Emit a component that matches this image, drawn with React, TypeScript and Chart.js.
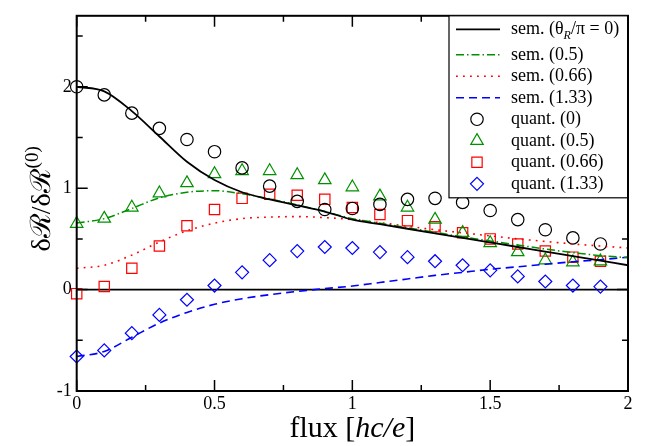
import React, { useEffect, useRef } from 'react';
import { Chart, registerables } from 'chart.js';

Chart.register(...registerables);

const FONT = '"Liberation Serif", "DejaVu Serif", "Times New Roman", serif';

// semiclassical curves (flux in hc/e)
const semX = [0, 0.1, 0.2, 0.3, 0.4, 0.5, 0.6, 0.7, 0.8, 0.9, 1.0, 1.1, 1.2, 1.3, 1.4, 1.5, 1.6, 1.7, 1.8, 1.9, 2.0];
const sem0 = [2.0, 1.955, 1.76, 1.51, 1.26, 1.08, 0.96, 0.89, 0.83, 0.77, 0.69, 0.645, 0.6, 0.555, 0.51, 0.465, 0.42, 0.375, 0.33, 0.285, 0.24];
const sem05 = [0.656, 0.7, 0.8, 0.905, 0.96, 0.975, 0.945, 0.895, 0.835, 0.77, 0.7, 0.655, 0.61, 0.565, 0.52, 0.48, 0.44, 0.4, 0.365, 0.335, 0.315];
const sem066 = [0.21, 0.24, 0.34, 0.47, 0.58, 0.655, 0.7, 0.715, 0.72, 0.71, 0.69, 0.66, 0.625, 0.59, 0.56, 0.53, 0.5, 0.475, 0.45, 0.43, 0.41];
const sem133 = [-0.66, -0.61, -0.47, -0.33, -0.225, -0.145, -0.09, -0.05, -0.018, 0.01, 0.035, 0.07, 0.105, 0.14, 0.17, 0.2, 0.225, 0.25, 0.275, 0.295, 0.32];

// quantum results
const quantX = [0, 0.1, 0.2, 0.3, 0.4, 0.5, 0.6, 0.7, 0.8, 0.9, 1.0, 1.1, 1.2, 1.3, 1.4, 1.5, 1.6, 1.7, 1.8, 1.9];
const quant0 = [2.0, 1.92, 1.74, 1.59, 1.48, 1.36, 1.2, 1.02, 0.87, 0.79, 0.8, 0.84, 0.89, 0.9, 0.86, 0.78, 0.69, 0.59, 0.51, 0.45];
const quant05 = [0.65, 0.7, 0.81, 0.95, 1.05, 1.14, 1.17, 1.17, 1.13, 1.08, 1.01, 0.92, 0.81, 0.69, 0.56, 0.46, 0.37, 0.29, 0.27, 0.28];
const quant066 = [-0.04, 0.03, 0.21, 0.43, 0.63, 0.79, 0.9, 0.94, 0.93, 0.89, 0.81, 0.74, 0.68, 0.62, 0.56, 0.5, 0.45, 0.38, 0.32, 0.28];
const quant133 = [-0.66, -0.6, -0.43, -0.25, -0.1, 0.04, 0.17, 0.29, 0.38, 0.42, 0.41, 0.37, 0.32, 0.28, 0.24, 0.19, 0.13, 0.08, 0.04, 0.03];

const semLabels = ['sem. (θR/π = 0)', 'sem. (0.5)', 'sem. (0.66)', 'sem. (1.33)'];
const quantLabels = ['quant. (0)', 'quant. (0.5)', 'quant. (0.66)', 'quant. (1.33)'];

const xTicks = [0, 0.5, 1, 1.5, 2];
const xMinor = [0.25, 0.75, 1.25, 1.75];
const yTicks = [-1, 0, 1, 2];
const yMinor = [-0.5, 0.5, 1.5, 2.5];

const xTitle = ['flux [', 'hc/e', ']'];
const yTitle = ['δℛ/δℛ', '(0)'];

const BLACK = '#000000';
const GREEN = '#009100';
const RED = '#ff0000';
const BLUE = '#0000ff';

const pts = (xs: number[], ys: number[]) => ys.map((y, i) => ({ x: xs[i], y }));

function markerPath(ctx: CanvasRenderingContext2D, style: string, x: number, y: number, r: number) {
  ctx.beginPath();
  if (style === 'circle') {
    ctx.arc(x, y, r, 0, Math.PI * 2);
  } else if (style === 'triangle') {
    for (let k = 0; k < 3; k++) {
      const a = (k * 2 * Math.PI) / 3;
      const px = x + Math.sin(a) * r;
      const py = y - Math.cos(a) * r;
      if (k === 0) ctx.moveTo(px, py);
      else ctx.lineTo(px, py);
    }
    ctx.closePath();
  } else if (style === 'rect') {
    const s = r * Math.SQRT1_2;
    ctx.rect(x - s, y - s, 2 * s, 2 * s);
  } else {
    ctx.moveTo(x, y - r);
    ctx.lineTo(x + r, y);
    ctx.lineTo(x, y + r);
    ctx.lineTo(x - r, y);
    ctx.closePath();
  }
  ctx.stroke();
}

const decor = {
  id: 'decor',
  beforeDatasetsDraw(chart: any) {
    const { ctx, chartArea: a, scales } = chart;
    const y0 = scales.y.getPixelForValue(0);
    ctx.save();
    ctx.strokeStyle = BLACK;
    ctx.lineWidth = 1.8;
    ctx.beginPath();
    ctx.moveTo(a.left, y0);
    ctx.lineTo(a.right, y0);
    ctx.stroke();
    ctx.restore();
  },
  afterDraw(chart: any) {
    const { ctx, chartArea: a, scales } = chart;
    ctx.save();
    // ticks (inward, on all sides)
    ctx.strokeStyle = BLACK;
    ctx.lineWidth = 1.5;
    ctx.beginPath();
    const xt = (vals: number[], len: number) => {
      vals.forEach((v) => {
        const px = scales.x.getPixelForValue(v);
        ctx.moveTo(px, a.bottom);
        ctx.lineTo(px, a.bottom - len);
        ctx.moveTo(px, a.top);
        ctx.lineTo(px, a.top + len);
      });
    };
    const yt = (vals: number[], len: number) => {
      vals.forEach((v) => {
        const py = scales.y.getPixelForValue(v);
        ctx.moveTo(a.left, py);
        ctx.lineTo(a.left + len, py);
        ctx.moveTo(a.right, py);
        ctx.lineTo(a.right - len, py);
      });
    };
    xt(xTicks, 11);
    xt(xMinor, 6);
    yt(yTicks, 11);
    yt(yMinor, 6);
    ctx.stroke();

    // frame
    ctx.lineWidth = 2;
    ctx.strokeRect(a.left, a.top, a.right - a.left, a.bottom - a.top);

    // legend
    const lw = 179;
    const lh = 182;
    const lx = a.right - lw;
    const ly = a.top;
    ctx.fillStyle = '#ffffff';
    ctx.fillRect(lx, ly, lw, lh);
    ctx.lineWidth = 1.2;
    ctx.strokeStyle = BLACK;
    ctx.strokeRect(lx, ly, lw, lh);
    ctx.lineWidth = 2;
    ctx.beginPath();
    ctx.moveTo(a.right, ly);
    ctx.lineTo(a.right, ly + lh);
    ctx.stroke();

    const rowC = [13.5, 39, 60.5, 82, 103.5, 125, 146.5, 168];
    const ds = chart.data.datasets;
    ctx.font = `18px ${FONT}`;
    ctx.textBaseline = 'alphabetic';
    ctx.textAlign = 'left';
    for (let i = 0; i < ds.length; i++) {
      const d = ds[i];
      const cy = ly + rowC[i];
      const tx = lx + 62;
      if (d.showLine) {
        ctx.strokeStyle = d.borderColor;
        ctx.lineWidth = d.borderWidth;
        ctx.setLineDash(d.borderDash || []);
        ctx.beginPath();
        ctx.moveTo(lx + 7, cy);
        ctx.lineTo(lx + 51, cy);
        ctx.stroke();
        ctx.setLineDash([]);
      } else {
        ctx.strokeStyle = d.borderColor;
        ctx.lineWidth = d.pointBorderWidth;
        markerPath(ctx, d.pointStyle, lx + 28, cy, d.pointRadius);
      }
      ctx.fillStyle = BLACK;
      const label: string = d.label;
      if (label.includes('θR')) {
        const [pre, post] = label.split('θR');
        const p1 = pre + 'θ';
        ctx.font = `18px ${FONT}`;
        ctx.fillText(p1, tx, cy + 5);
        let w = ctx.measureText(p1).width;
        ctx.font = `italic 12px ${FONT}`;
        ctx.fillText('R', tx + w, cy + 10);
        w += ctx.measureText('R').width;
        ctx.font = `18px ${FONT}`;
        ctx.fillText(post, tx + w, cy + 5);
      } else {
        ctx.font = `18px ${FONT}`;
        ctx.fillText(label, tx, cy + 5);
      }
    }

    // x title
    ctx.fillStyle = BLACK;
    const fN = `30px ${FONT}`;
    const fI = `italic 30px ${FONT}`;
    const fonts = [fN, fI, fN];
    let total = 0;
    const widths = xTitle.map((t, i) => {
      ctx.font = fonts[i];
      const w = ctx.measureText(t).width;
      total += w;
      return w;
    });
    let xx = (a.left + a.right) / 2 - total / 2;
    xTitle.forEach((t, i) => {
      ctx.font = fonts[i];
      ctx.fillText(t, xx, 437);
      xx += widths[i];
    });

    // y title (rotated)
    ctx.save();
    ctx.font = `28px ${FONT}`;
    const wMain = ctx.measureText(yTitle[0]).width;
    ctx.font = `19px ${FONT}`;
    const wSup = ctx.measureText(yTitle[1]).width;
    const cyT = (a.top + a.bottom) / 2 - 4;
    ctx.translate(50, cyT + (wMain + wSup) / 2);
    ctx.rotate(-Math.PI / 2);
    ctx.font = `28px ${FONT}`;
    ctx.fillText(yTitle[0], 0, 0);
    ctx.font = `19px ${FONT}`;
    ctx.fillText(yTitle[1], wMain + 1, -12);
    ctx.restore();

    ctx.restore();
  },
};

export default function App() {
  const ref = useRef<HTMLCanvasElement | null>(null);
  useEffect(() => {
    if (!ref.current) return;
    const lineDs = (label: string, ys: number[], color: string, dash: number[], width: number) => ({
      label,
      data: pts(semX, ys),
      showLine: true,
      borderColor: color,
      backgroundColor: color,
      borderWidth: width,
      borderDash: dash,
      pointRadius: 0,
      cubicInterpolationMode: 'monotone',
      fill: false,
      clip: false,
    });
    const markDs = (label: string, ys: number[], color: string, style: string, r: number) => ({
      label,
      data: pts(quantX, ys),
      showLine: false,
      borderColor: color,
      backgroundColor: 'rgba(0,0,0,0)',
      pointStyle: style,
      pointRadius: r,
      pointBorderWidth: 1.2,
      clip: false,
    });
    const chart = new Chart(ref.current, {
      type: 'scatter',
      data: {
        datasets: [
          lineDs(semLabels[0], sem0, BLACK, [], 1.8),
          lineDs(semLabels[1], sem05, GREEN, [8, 3, 1.5, 3], 1.5),
          lineDs(semLabels[2], sem066, RED, [1.8, 5.2], 1.6),
          lineDs(semLabels[3], sem133, BLUE, [8, 5], 1.6),
          markDs(quantLabels[0], quant0, BLACK, 'circle', 6.2),
          markDs(quantLabels[1], quant05, GREEN, 'triangle', 7.2),
          markDs(quantLabels[2], quant066, RED, 'rect', 7.3),
          markDs(quantLabels[3], quant133, BLUE, 'rectRot', 6.5),
        ] as any,
      },
      options: {
        responsive: false,
        animation: false,
        events: [],
        layout: { padding: { top: 5, right: 37, left: 0, bottom: 0 } },
        plugins: { legend: { display: false }, tooltip: { enabled: false } },
        scales: {
          x: {
            type: 'linear',
            min: 0,
            max: 2,
            afterFit: (s: any) => {
              s.height = 55;
            },
            afterBuildTicks: (s: any) => {
              s.ticks = xTicks.map((v) => ({ value: v }));
            },
            grid: { display: false, drawTicks: false },
            border: { display: false },
            ticks: {
              color: BLACK,
              font: { family: FONT, size: 18 },
              padding: 2,
              maxRotation: 0,
              autoSkip: false,
              callback: (v: any) => String(v),
            },
          },
          y: {
            type: 'linear',
            min: -1,
            max: 2.7,
            afterFit: (s: any) => {
              s.width = 76.7;
            },
            afterBuildTicks: (s: any) => {
              s.ticks = yTicks.map((v) => ({ value: v }));
            },
            grid: { display: false, drawTicks: false },
            border: { display: false },
            ticks: {
              color: BLACK,
              font: { family: FONT, size: 18 },
              padding: 5,
              autoSkip: false,
              callback: (v: any) => String(v),
            },
          },
        },
      },
      plugins: [decor],
    });
    return () => chart.destroy();
  }, []);
  return (
    <div style={{ position: 'fixed', left: 0, top: 0, width: 665, height: 446, background: '#fff' }}>
      <canvas ref={ref} width={665} height={446} style={{ display: 'block' }} />
    </div>
  );
}
